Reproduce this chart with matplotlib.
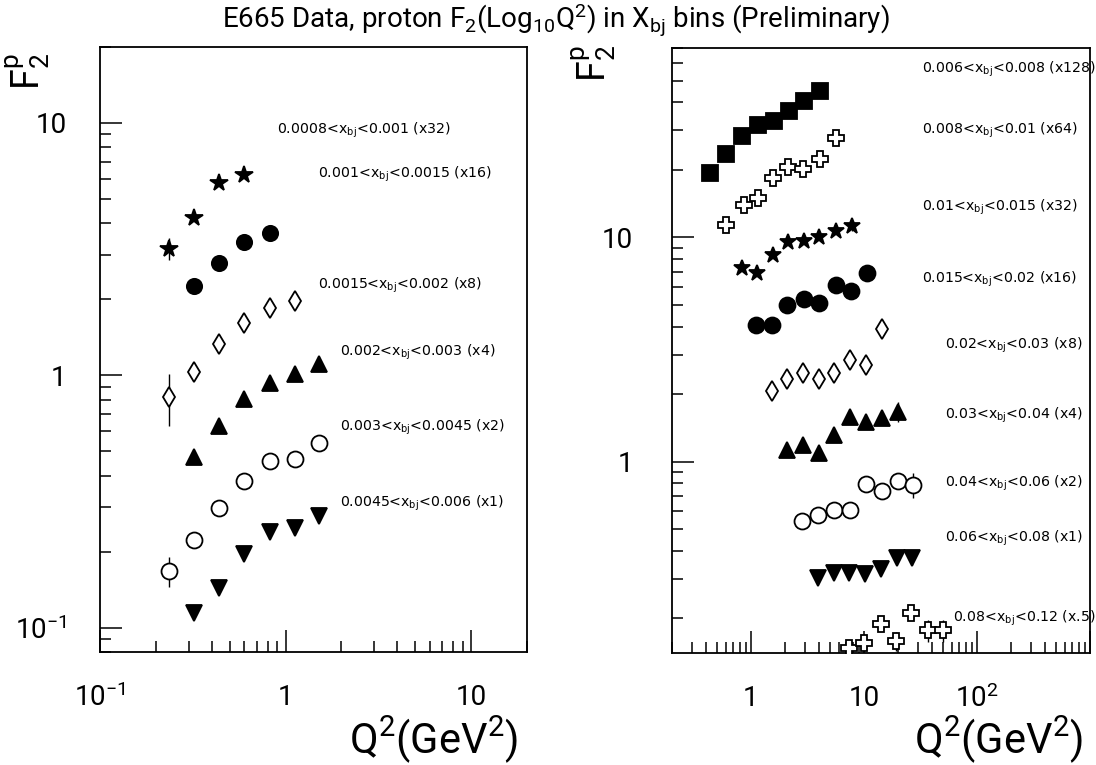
import matplotlib
matplotlib.use("Agg")
import matplotlib.pyplot as plt
from matplotlib.ticker import LogLocator, FixedFormatter, FixedLocator, NullFormatter

plt.rcParams["font.family"] = ["Roboto", "DejaVu Sans"]
plt.rcParams["mathtext.default"] = "regular"

# ---------------- left panel: low x_bj bins ----------------
L_labels = ["0.0008<x$_{bj}$<0.001 (x32)", "0.001<x$_{bj}$<0.0015 (x16)",
            "0.0015<x$_{bj}$<0.002 (x8)", "0.002<x$_{bj}$<0.003 (x4)",
            "0.003<x$_{bj}$<0.0045 (x2)", "0.0045<x$_{bj}$<0.006 (x1)"]
L_q2 = [[0.235, 0.32, 0.44, 0.60],
        [0.32, 0.44, 0.60, 0.82],
        [0.235, 0.32, 0.44, 0.60, 0.82, 1.12],
        [0.32, 0.44, 0.60, 0.82, 1.12, 1.51],
        [0.235, 0.32, 0.44, 0.60, 0.82, 1.12, 1.51],
        [0.32, 0.44, 0.60, 0.82, 1.12, 1.51]]
L_f2 = [[3.17, 4.21, 5.78, 6.2],
        [2.25, 2.79, 3.37, 3.66],
        [0.82, 1.03, 1.33, 1.61, 1.85, 1.97],
        [0.473, 0.63, 0.805, 0.932, 1.01, 1.11],
        [0.168, 0.223, 0.299, 0.382, 0.459, 0.466, 0.537],
        [0.114, 0.144, 0.195, 0.24, 0.249, 0.277]]
L_err = [[0.32, 0, 0, 0],
         [0, 0, 0, 0],
         [0.19, 0, 0, 0, 0, 0],
         [0, 0, 0, 0, 0, 0],
         [0.023, 0, 0, 0, 0, 0, 0],
         [0, 0, 0, 0, 0, 0]]

# ---------------- right panel: higher x_bj bins ----------------
R_labels = ["0.006<x$_{bj}$<0.008 (x128)", "0.008<x$_{bj}$<0.01 (x64)",
            "0.01<x$_{bj}$<0.015 (x32)", "0.015<x$_{bj}$<0.02 (x16)",
            "0.02<x$_{bj}$<0.03 (x8)", "0.03<x$_{bj}$<0.04 (x4)",
            "0.04<x$_{bj}$<0.06 (x2)", "0.06<x$_{bj}$<0.08 (x1)",
            "0.08<x$_{bj}$<0.12 (x.5)"]
R_q2 = [[0.434, 0.60, 0.84, 1.15, 1.59, 2.17, 2.97, 4.11],
        [0.60, 0.867, 1.15, 1.56, 2.14, 2.91, 4.08, 5.65],
        [0.83, 1.12, 1.56, 2.14, 2.94, 4.03, 5.65, 7.78],
        [1.10, 1.55, 2.10, 2.94, 4.03, 5.62, 7.67, 10.6],
        [1.52, 2.10, 2.91, 4.0, 5.47, 7.52, 10.4, 14.3],
        [2.10, 2.87, 4.0, 5.47, 7.52, 10.4, 14.3, 19.9],
        [2.85, 3.95, 5.43, 7.52, 10.4, 14.3, 19.9, 27.0],
        [3.95, 5.43, 7.43, 10.2, 14.0, 19.4, 26.8],
        [7.3, 10.1, 14.0, 19.1, 26.0, 37.1, 49.7]]
R_f2 = [[19.3, 23.6, 28.3, 31.6, 33.0, 36.6, 40.8, 44.9],
        [11.4, 14.0, 15.0, 18.5, 20.7, 20.3, 22.4, 27.7],
        [7.31, 6.95, 8.38, 9.5, 9.6, 10.07, 10.7, 11.2],
        [4.05, 4.05, 5.02, 5.29, 5.11, 6.16, 5.75, 6.92],
        [2.07, 2.33, 2.49, 2.33, 2.49, 2.85, 2.71, 3.89],
        [1.13, 1.19, 1.09, 1.32, 1.585, 1.50, 1.56, 1.67],
        [0.541, 0.58, 0.606, 0.606, 0.796, 0.743, 0.823, 0.788],
        [0.303, 0.319, 0.319, 0.316, 0.333, 0.372, 0.37],
        [0.147, 0.155, 0.188, 0.158, 0.212, 0.177, 0.177]]
R_err = [[0] * 8,
         [0] * 8,
         [0, 0, 0, 0, 0, 0, 0, 0.5],
         [0] * 8,
         [0] * 8,
         [0, 0, 0, 0, 0, 0.05, 0.06, 0.17],
         [0, 0, 0, 0, 0, 0, 0.04, 0.1],
         [0, 0, 0, 0.015, 0, 0.02, 0.025],
         [0.01, 0.012, 0.012, 0.015, 0.012, 0.02, 0.02]]

# marker styles (marker, filled, size)
L_sty = [("*", True, 13), ("o", True, 11), ("d", False, 10),
         ("^", True, 11), ("o", False, 11.5), ("v", True, 11)]
R_sty = [("s", True, 12), ("P", False, 12), ("*", True, 12), ("o", True, 11.5),
         ("d", False, 10), ("^", True, 11.5), ("o", False, 11.5),
         ("v", True, 11.5), ("P", False, 12)]

L_lab_pos = [(0.415, 0.863), (0.511, 0.790), (0.511, 0.606),
             (0.562, 0.495), (0.562, 0.371), (0.562, 0.246)]
R_lab_pos = [(0.598, 0.964), (0.598, 0.864), (0.598, 0.736), (0.598, 0.617),
             (0.653, 0.509), (0.653, 0.393), (0.653, 0.281), (0.653, 0.190),
             (0.672, 0.058)]

W, H = 1096, 765
fig = plt.figure(figsize=(W / 100, H / 100), dpi=100)
axL = fig.add_axes((100 / W, 1 - 652 / H, 427 / W, 605 / H))
axR = fig.add_axes((672 / W, 1 - 653 / H, 418 / W, 605 / H))


def draw(ax, qs, fs, errs, styles):
    for q, f, e, (m, filled, ms) in zip(qs, fs, errs, styles):
        ax.errorbar(q, f, yerr=e, fmt=m, ms=ms, mfc="black" if filled else "white",
                    mec="black", mew=1.3, ecolor="black", elinewidth=1.0, capsize=0,
                    clip_on=True, zorder=3)


def style(ax):
    ax.set_xscale("log"); ax.set_yscale("log")
    for sp in ax.spines.values():
        sp.set_linewidth(1.3)
    ax.tick_params(which="both", direction="in", top=False, right=False,
                   labelsize=20, width=1.1)
    ax.tick_params(which="major", length=16)
    ax.tick_params(which="minor", length=8)
    ax.xaxis.set_minor_locator(LogLocator(subs=range(2, 10), numticks=20))
    ax.yaxis.set_minor_locator(LogLocator(subs=range(2, 10), numticks=20))
    ax.xaxis.set_minor_formatter(NullFormatter())
    ax.yaxis.set_minor_formatter(NullFormatter())


lab_font = dict(fontsize=10.2, va="center", ha="left", family=["DejaVu Sans"])

draw(axL, L_q2, L_f2, L_err, L_sty)
style(axL)
axL.set_xlim(0.1, 20); axL.set_ylim(0.08, 20)
axL.xaxis.set_major_locator(FixedLocator([0.1, 1, 10]))
axL.xaxis.set_major_formatter(FixedFormatter(["10$^{-1}$", "1", "10"]))
axL.yaxis.set_major_locator(FixedLocator([0.1, 1, 10]))
axL.yaxis.set_major_formatter(FixedFormatter(["10$^{-1}$", "1", "10"]))
axL.tick_params(axis="y", pad=24)
axL.tick_params(axis="x", pad=23)
for lab, (x, y) in zip(L_labels, L_lab_pos):
    axL.text(x, y, lab, transform=axL.transAxes, **lab_font)

draw(axR, R_q2, R_f2, R_err, R_sty)
style(axR)
axR.set_xlim(0.2, 1000); axR.set_ylim(0.14, 70)
axR.xaxis.set_major_locator(FixedLocator([1, 10, 100, 1000]))
axR.xaxis.set_major_formatter(FixedFormatter(["1", "10", "10$^{2}$", ""]))
axR.yaxis.set_major_locator(FixedLocator([1, 10]))
axR.yaxis.set_major_formatter(FixedFormatter(["1", "10"]))
axR.tick_params(axis="y", pad=28)
axR.tick_params(axis="x", pad=23)
for lab, (x, y) in zip(R_labels, R_lab_pos):
    axR.text(x, y, lab, transform=axR.transAxes, **lab_font)

# axis titles, HIGZ-like placement
big = dict(fontsize=30, ha="right", va="center")
fig.text(518 / W, 1 - 740 / H, "Q$^2$(GeV$^2$)", **big)
fig.text(1083 / W, 1 - 740 / H, "Q$^2$(GeV$^2$)", **big)
fig.text(28 / W, 1 - 72 / H, "F$_2^p$", fontsize=27, rotation=90, ha="center", va="center")
fig.text(594 / W, 1 - 64 / H, "F$_2^p$", fontsize=27, rotation=90, ha="center", va="center")
fig.text(556 / W, 1 - 20 / H,
         "E665 Data, proton F$_2$(Log$_{10}$Q$^2$) in X$_{bj}$ bins (Preliminary)",
         fontsize=20, ha="center", va="center")

fig.savefig("out.png", dpi=100)
